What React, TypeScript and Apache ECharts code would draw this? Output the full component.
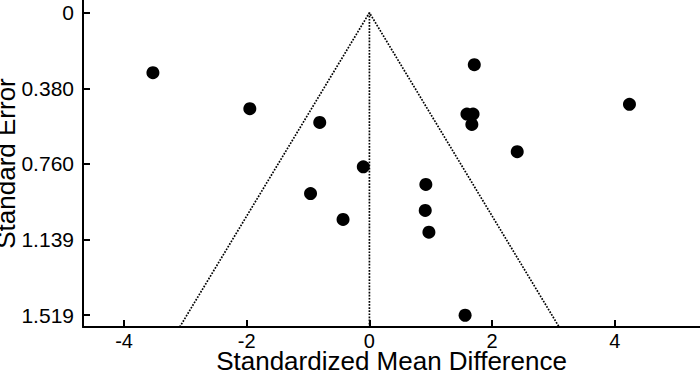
import React, { useEffect, useRef } from "react";
import * as echarts from "echarts";

// Study estimates
const smd = [-3.53, -1.95, -0.81, -0.96, -0.43, -0.10, 1.71, 1.59, 1.69, 1.67, 4.24, 2.41, 0.92, 0.91, 0.97, 1.56];
const se = [0.301, 0.482, 0.551, 0.908, 1.038, 0.774, 0.261, 0.509, 0.509, 0.561, 0.460, 0.698, 0.862, 0.993, 1.102, 1.519];

// Axis ticks
const xTickValues = [-4, -2, 0, 2, 4];
const yTickValues = [0, 0.37975, 0.7595, 1.13925, 1.519];
const yTickLabels = ["0", "0.380", "0.760", "1.139", "1.519"];

// Funnel (pseudo 95% CI) and mean line
const seMax = 1.578;
const zCrit = 1.96;
const meanEffect = 0;

const xMin = -4.67;
const xMax = 5.39;
const yMin = -0.0638;

const FONT = "'Liberation Sans', Arial, Helvetica, sans-serif";

export default function App() {
  const ref = useRef<HTMLDivElement>(null);
  useEffect(() => {
    if (!ref.current) return;
    const chart = echarts.init(ref.current, undefined, { renderer: "svg" });
    const points = smd.map((x, i) => [x, se[i]]);
    const funnel = [
      [meanEffect - zCrit * seMax, seMax],
      [meanEffect, 0],
      [meanEffect + zCrit * seMax, seMax],
    ];
    const meanLine = [
      [meanEffect, 0],
      [meanEffect, seMax],
    ];
    const dotted = { color: "#000", width: 1.7, type: [1.7, 1.4] };
    chart.setOption({
      animation: false,
      backgroundColor: "#ffffff",
      textStyle: { fontFamily: FONT, color: "#000" },
      grid: { left: 83, right: 0, top: 0, bottom: 44, containLabel: false, outerBoundsMode: "none" },
      xAxis: {
        type: "value",
        min: xMin,
        max: xMax,
        name: "Standardized Mean Difference",
        nameLocation: "middle",
        nameGap: 24,
        nameMoveOverlap: false,
        nameTextStyle: { fontSize: 26, lineHeight: 20, color: "#000", fontFamily: FONT },
        splitLine: { show: false },
        axisLine: { show: true, onZero: false, lineStyle: { color: "#000", width: 2 } },
        axisTick: { show: true, inside: true, length: 7, lineStyle: { color: "#000", width: 2 }, customValues: xTickValues },
        axisLabel: { fontSize: 20, lineHeight: 16, color: "#000", margin: 6, fontFamily: FONT, customValues: xTickValues },
      },
      yAxis: {
        type: "value",
        inverse: true,
        min: yMin,
        max: seMax,
        name: "Standard Error",
        nameLocation: "middle",
        nameGap: 64,
        nameMoveOverlap: false,
        nameRotate: 90,
        nameTextStyle: { fontSize: 26, color: "#000", fontFamily: FONT },
        splitLine: { show: false },
        axisLine: { show: true, onZero: false, lineStyle: { color: "#000", width: 2 } },
        axisTick: { show: true, inside: true, length: 7, lineStyle: { color: "#000", width: 2 }, customValues: yTickValues },
        axisLabel: {
          fontSize: 21,
          color: "#000",
          margin: 9,
          fontFamily: FONT,
          customValues: yTickValues,
          formatter: (v: number) => {
            const idx = yTickValues.findIndex((t) => Math.abs(t - v) < 1e-6);
            return idx >= 0 ? yTickLabels[idx] : "";
          },
        },
      },
      series: [
        {
          type: "line",
          data: funnel,
          symbol: "none",
          lineStyle: dotted,
          silent: true,
          z: 1,
        },
        {
          type: "line",
          data: meanLine,
          symbol: "none",
          lineStyle: dotted,
          silent: true,
          z: 1,
        },
        {
          type: "scatter",
          data: points,
          symbol: "circle",
          symbolSize: 13,
          itemStyle: { color: "#000", opacity: 1 },
          z: 3,
        },
      ],
    });
    return () => chart.dispose();
  }, []);
  return (
    <div
      ref={ref}
      style={{ position: "fixed", left: 0, top: 0, width: 700, height: 371, background: "#fff" }}
    />
  );
}
